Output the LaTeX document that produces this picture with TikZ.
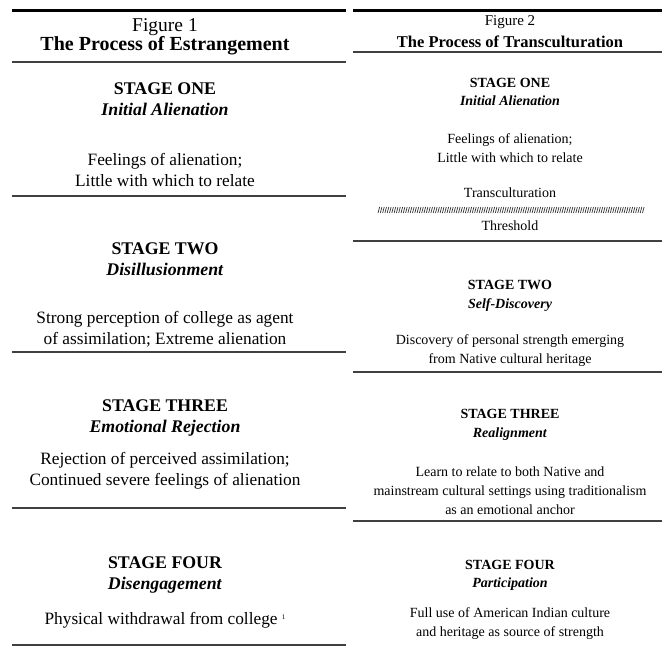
\documentclass[tikz,border=0pt]{standalone}
\usepackage{fontspec}
\setmainfont{Liberation Serif}
\usetikzlibrary{positioning}
\tikzset{
  lbody/.style={align=center,inner sep=0pt,font=\fontsize{17.3}{21}\selectfont},
  lhead/.style={align=center,inner sep=0pt,font=\fontsize{17.8}{21.5}\selectfont\bfseries},
  ltitle/.style={align=center,inner sep=0pt,font=\fontsize{19.5}{19.5}\selectfont},
  rbody/.style={align=center,inner sep=0pt,font=\fontsize{14}{19}\selectfont},
  rhead/.style={align=center,inner sep=0pt,font=\fontsize{14}{18.5}\selectfont\bfseries},
  rtitle/.style={align=center,inner sep=0pt,font=\fontsize{15}{18}\selectfont},
  toprule/.style={line width=3pt,draw=black},
  midrule/.style={line width=1.4pt,draw=black!75},
  hatch/.style={line width=0.7pt,draw=black!80}
}
\begin{document}
\begin{tikzpicture}[x=1pt,y=-1pt]
  \useasboundingbox (0,0) rectangle (662,649);
  % Figure 1
  \draw[toprule] (12,10) -- (346,10);
  \node[ltitle] (f1) at (165,27) {Figure 1};
  \node[ltitle,font=\fontsize{20}{20}\selectfont\bfseries] (f1t) at (165,45.5) {The Process of Estrangement};
  \draw[midrule] (12,62) -- (346,62);
  \node[lhead] (l1h) at (165,99) {STAGE ONE\\\textit{Initial Alienation}};
  \node[lbody] (l1b) at (165,169.5) {Feelings of alienation;\\Little with which to relate};
  \draw[midrule] (12,196) -- (346,196);
  \node[lhead] (l2h) at (165,259) {STAGE TWO\\\textit{Disillusionment}};
  \node[lbody] (l2b) at (165,329) {Strong perception of college as agent\\of assimilation; Extreme alienation};
  \draw[midrule] (12,352) -- (346,352);
  \node[lhead] (l3h) at (165,418) {STAGE THREE\\\textit{Emotional Rejection}};
  \node[lbody] (l3b) at (165,470.5) {Rejection of perceived assimilation;\\Continued severe feelings of alienation};
  \draw[midrule] (12,508) -- (346,508);
  \node[lhead] (l4h) at (165,575) {STAGE FOUR\\\textit{Disengagement}};
  \node[lbody] (l4b) at (165,620) {Physical withdrawal from college~\raisebox{5pt}{\fontsize{7}{7}\selectfont 1}};
  \draw[midrule] (12,645) -- (346,645);
  % Figure 2
  \draw[toprule] (353,10) -- (662,10);
  \node[rtitle] (f2) at (510,22) {Figure 2};
  \node[rtitle,font=\fontsize{16.5}{18}\selectfont\bfseries] (f2t) at (510,42) {The Process of Transculturation};
  \draw[midrule] (353,52) -- (662,52);
  \node[rhead] (r1h) at (510,92) {STAGE ONE\\\textit{Initial Alienation}};
  \node[rbody] (r1b) at (510,148) {Feelings of alienation;\\Little with which to relate};
  \node[rbody] (thr1) at (510,193) {Transculturation};
  \foreach \i in {0,...,115}
    \draw[hatch] (378+\i*2.3,213) -- ++(1.6,-6);
  \node[rbody] (thr2) at (510,226) {Threshold};
  \draw[midrule] (353,241) -- (662,241);
  \node[rhead] (r2h) at (510,296) {STAGE TWO\\\textit{Self-Discovery}};
  \node[rbody] (r2b) at (510,351) {Discovery of personal strength emerging\\from Native cultural heritage};
  \draw[midrule] (353,372) -- (662,372);
  \node[rhead] (r3h) at (510,425) {STAGE THREE\\\textit{Realignment}};
  \node[rbody] (r3b) at (510,491) {Learn to relate to both Native and\\mainstream cultural settings using traditionalism\\as an emotional anchor};
  \draw[midrule] (353,521) -- (662,521);
  \node[rhead] (r4h) at (510,575.5) {STAGE FOUR\\\textit{Participation}};
  \node[rbody] (r4b) at (510,623.5) {Full use of American Indian culture\\and heritage as source of strength};
\end{tikzpicture}
\end{document}
